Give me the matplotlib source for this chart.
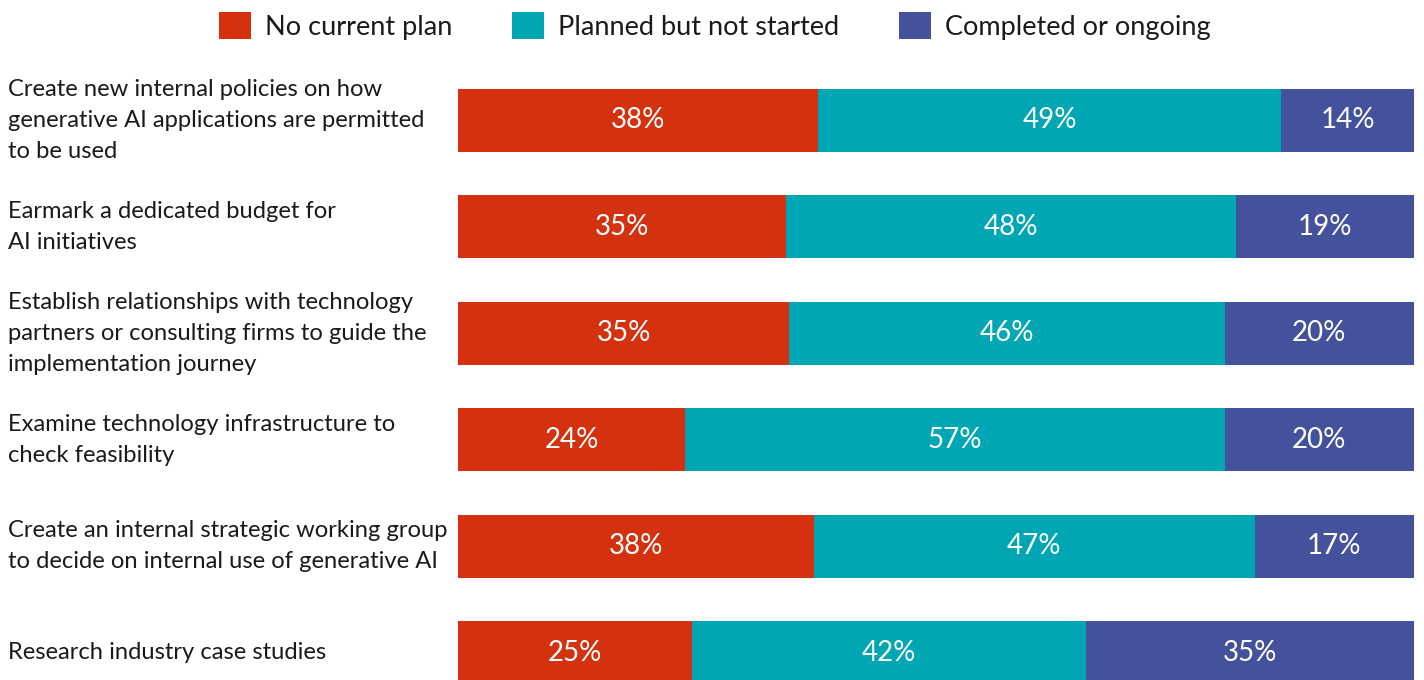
import matplotlib.pyplot as plt
from matplotlib.patches import Patch

# data
items = [
    "Create new internal policies on how\ngenerative AI applications are permitted\nto be used",
    "Earmark a dedicated budget for\nAI initiatives",
    "Establish relationships with technology\npartners or consulting firms to guide the\nimplementation journey",
    "Examine technology infrastructure to\ncheck feasibility",
    "Create an internal strategic working group\nto decide on internal use of generative AI",
    "Research industry case studies",
]
series = ["No current plan", "Planned but not started", "Completed or ongoing"]
no_plan = [38, 35, 35, 24, 38, 25]
planned = [49, 48, 46, 57, 47, 42]
done = [14, 19, 20, 20, 17, 35]

colors = ["#D4310E", "#00A6B4", "#44529D"]

plt.rcParams['font.family'] = ['Lato', 'DejaVu Sans']

W, H = 1424, 680
fig = plt.figure(figsize=(W / 100, H / 100), dpi=100)
ax = fig.add_axes([458 / W, 0, 956 / W, 1])

step = 106.4
top = -120.5 / step
bottom = (H - 120.5) / step
ax.set_ylim(bottom, top)
ax.set_xlim(0, 1)

for i, name in enumerate(items):
    vals = [no_plan[i], planned[i], done[i]]
    total = sum(vals)
    left = 0
    for v, c in zip(vals, colors):
        w = v / total
        ax.barh(i, w, left=left, height=63 / step, color=c)
        ax.text(left + w / 2, i, f"{v}%", ha='center', va='center',
                color='white', fontsize=20)
        left += w
    ax.text(-450 / 956, i, name, ha='left', va='center', fontsize=17.1,
            color='#1a1a1a', linespacing=1.6)

ax.axis('off')

handles = [Patch(facecolor=c, label=s) for c, s in zip(colors, series)]
fig.legend(handles=handles, loc='center', bbox_to_anchor=(715 / W, 1 - 26 / H),
           ncol=3, frameon=False, fontsize=19.5, handlelength=1.18,
           handleheight=1.18, handletextpad=0.52, columnspacing=2.2,
           labelcolor='#1a1a1a')

fig.savefig("out.png", dpi=100)
